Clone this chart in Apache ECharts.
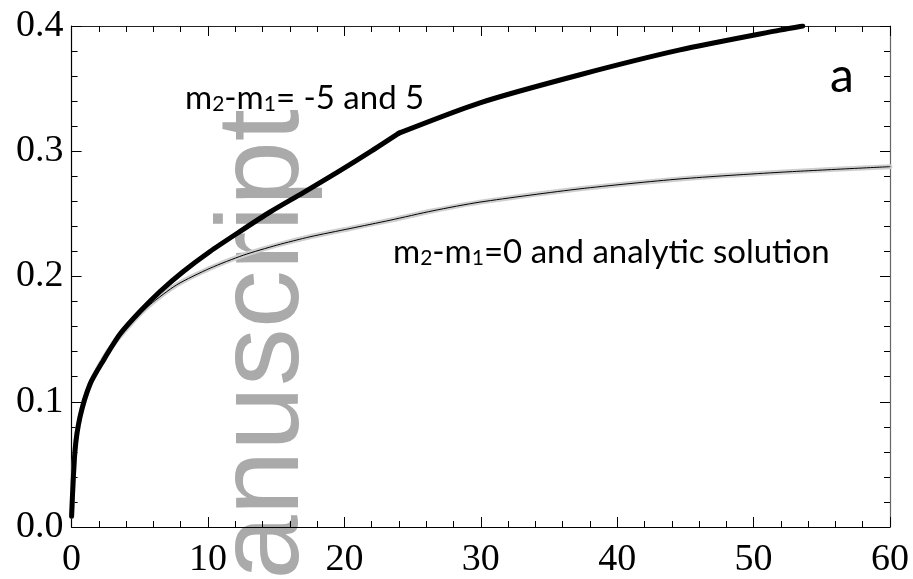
<!DOCTYPE html>
<html><head><meta charset="utf-8">
<script src="https://cdn.jsdelivr.net/npm/echarts@6/dist/echarts.min.js"></script>
<style>html,body{margin:0;padding:0;background:#fff}#c{width:913px;height:579px}</style>
</head><body><div id="c"></div>
<script>
// thick curve: m2-m1 = -5 and 5 (kink at x = 24)
const thickX = [0, 0.25, 0.62, 1.35, 2.33, 3.55, 5.01, 6.48, 8.19, 10.15, 12.35, 14.55, 16.99, 19.44, 21.88, 24.0, 29.94, 37.27, 44.6, 51.93, 53.6];
const thickY = [0.0085, 0.061, 0.088, 0.114, 0.133, 0.154, 0.172, 0.188, 0.204, 0.22, 0.236, 0.2515, 0.267, 0.283, 0.2995, 0.3145, 0.3387, 0.3611, 0.3809, 0.3967, 0.4];
const thickKinkX = 24.0;
// thin curve: m2-m1 = 0 and analytic solution
const thinX = [0, 0.25, 0.62, 1.35, 2.0, 2.69, 4.28, 5.75, 7.7, 10.15, 12.59, 15.04, 17.48, 20.41, 23.34, 26.5, 29.94, 37.27, 44.6, 51.93, 60];
const thinY = [0.0085, 0.061, 0.088, 0.114, 0.128, 0.1406, 0.1617, 0.1775, 0.1933, 0.2066, 0.217, 0.225, 0.2317, 0.2383, 0.2449, 0.2525, 0.2594, 0.27, 0.2779, 0.2832, 0.2877];
const xTicks = {min: 0, max: 60, interval: 10};
const yTicks = {min: 0, max: 0.4, interval: 0.1};
const label1 = ['m', '2', '-m', '1', '= -5 and 5'];
const label2 = ['m', '2', '-m', '1', '=0 and analytic solution'];
const panelLabel = 'a';
const watermark = 'Manuscript';

const zip = (xs, ys) => xs.map((x, i) => [x, ys[i]]);
const thickData = zip(thickX, thickY);
const thickA = thickData.filter(p => p[0] <= thickKinkX);
const thickB = thickData.filter(p => p[0] >= thickKinkX);
const sub = (parts) => `{n|${parts[0]}}{s|${parts[1]}}{n|${parts[2]}}{s|${parts[3]}}{n|${parts[4]}}`;
const rich = {
  n: {fontFamily: 'Lato', fontSize: 33, color: '#000', lineHeight: 34, verticalAlign: 'middle'},
  s: {fontFamily: 'Lato', fontSize: 21, color: '#000', lineHeight: 9, verticalAlign: 'bottom'}
};
const axisCommon = (showLabel, isX, pos, lineColor) => ({
  type: 'value', position: pos,
  min: isX ? xTicks.min : yTicks.min, max: isX ? xTicks.max : yTicks.max,
  interval: isX ? xTicks.interval : yTicks.interval,
  axisLine: {show: true, onZero: false, lineStyle: {color: lineColor, width: 1.2}},
  axisTick: {show: true, inside: true, length: 10, lineStyle: {color: '#000', width: 1}},
  minorTick: {show: true, splitNumber: 5, length: 6, lineStyle: {color: '#000', width: 1}},
  splitLine: {show: false},
  axisLabel: {show: showLabel, fontFamily: 'Liberation Serif', fontSize: 38, color: '#000',
    margin: isX ? 14 : 8,
    formatter: isX ? (v) => String(v) : (v) => v.toFixed(1)}
});
const lineSeries = (data, color, width, z) => ({
  type: 'line', xAxisIndex: 0, yAxisIndex: 0, data: data, showSymbol: false, symbol: 'none',
  smooth: 0.25, lineStyle: {color: color, width: width, cap: 'round', join: 'round'}, z: z
});

const chart = echarts.init(document.getElementById('c'));
chart.setOption({
  animation: false,
  backgroundColor: '#fff',
  grid: {left: 71.6, right: 23, top: 26, bottom: 48.3, containLabel: false},
  xAxis: [axisCommon(true, true, 'bottom', '#000'), axisCommon(false, true, 'top', '#222')],
  yAxis: [axisCommon(true, false, 'left', '#000'), axisCommon(false, false, 'right', '#666')],
  graphic: [
    {type: 'text', x: 266, y: 109, rotation: Math.PI / 2, z: -10, silent: true,
      style: {text: watermark, font: '116px "Liberation Sans"', fill: '#aaaaaa', align: 'right', verticalAlign: 'middle'}},
    {type: 'text', x: 558, y: -4, z: 10, style: {text: 'g', font: '40px Lato', fill: '#000', align: 'center', verticalAlign: 'bottom'}},
    {type: 'text', x: 185, y: 98, z: 20, style: {text: sub(label1), rich: rich, align: 'left', verticalAlign: 'middle'}},
    {type: 'text', x: 393, y: 252, z: 20, style: {text: sub(label2), rich: rich, align: 'left', verticalAlign: 'middle'}},
    {type: 'text', x: 842, y: 77, z: 20, style: {text: panelLabel, font: '48px Lato', fill: '#000', align: 'center', verticalAlign: 'middle'}}
  ],
  series: [
    lineSeries(zip(thinX, thinY), '#cfcfcf', 5, 2),
    lineSeries(zip(thinX, thinY), '#000', 1, 3),
    lineSeries(thickA, '#000', 5, 4),
    lineSeries(thickB, '#000', 5, 4)
  ]
});
</script></body></html>
